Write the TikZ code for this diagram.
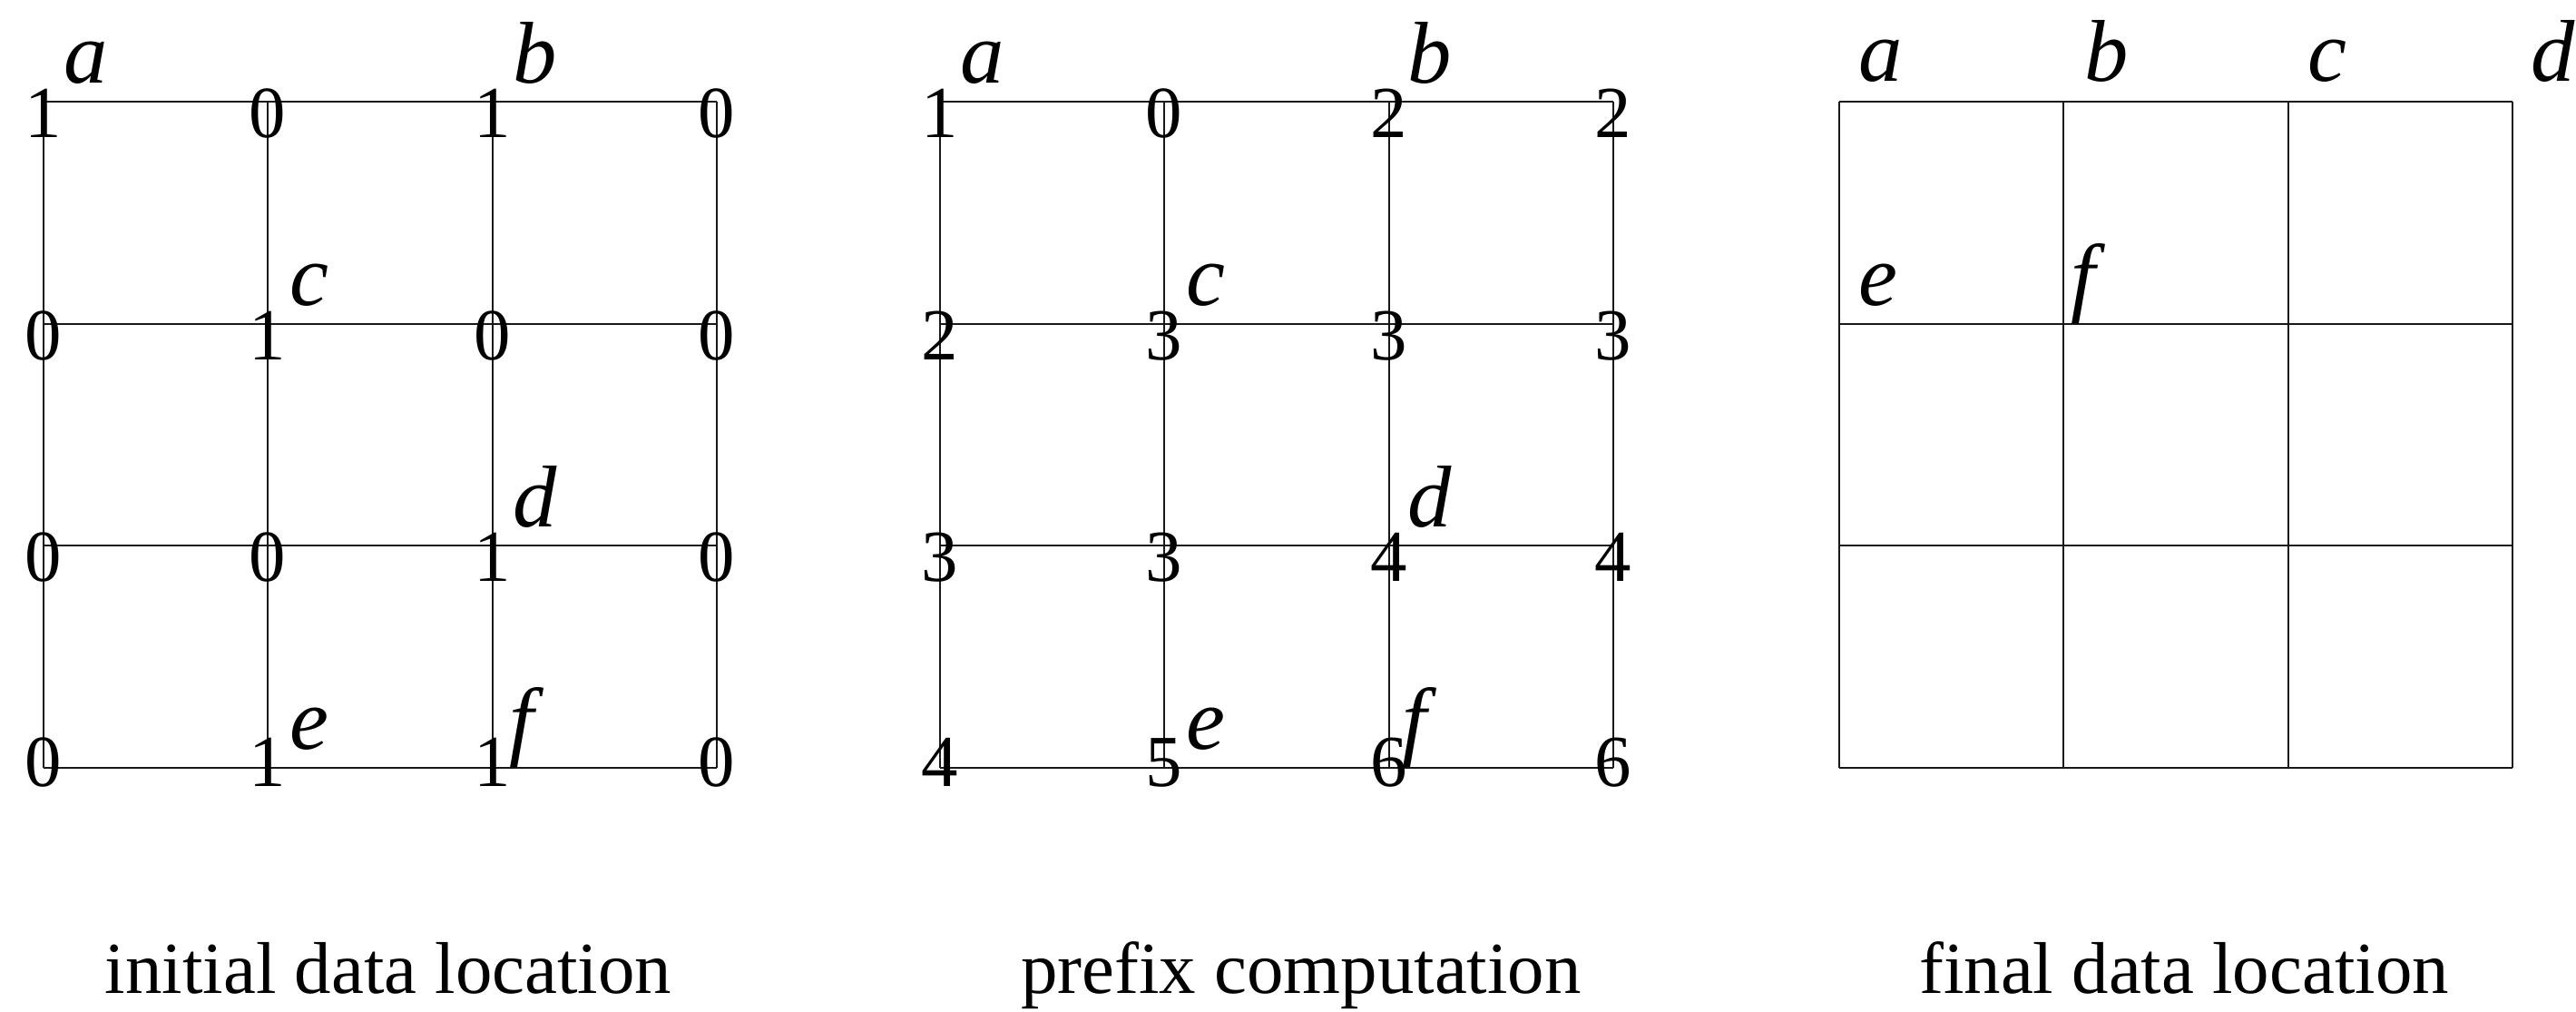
\documentclass[tikz,border=0pt]{standalone}
\usepackage{fontspec}
\setmainfont{Liberation Serif}
\usetikzlibrary{positioning}
\tikzset{
    font=\rmfamily,
    % Lines
    gridLine/.style={line width=0.75pt, black!90},
    % Labels
    digit/.style={anchor=base, inner sep=0pt, font=\fontsize{23}{23}\selectfont},
    tag/.style={inner sep=0pt, text depth=0pt, font=\fontsize{27.5}{27.5}\selectfont\itshape},
    caption/.style={anchor=base, inner sep=0pt, font=\fontsize{23}{23}\selectfont}
}

\begin{document}
\begin{tikzpicture}
\useasboundingbox (0,0) rectangle (28.39,11.15);

\foreach \y [count=\r] in {10.03,7.58,5.14,2.69}{
  \foreach \x [count=\c] in {0.48,2.95,5.43,7.90}{
    \coordinate (in-\r-\c) at (\x,\y);
    \coordinate (pre-\r-\c) at (\x+9.88,\y);
    \coordinate (fin-\r-\c) at (\x+19.79,\y);
  }
}

\foreach \g in {in,pre,fin}{
  \foreach \k in {1,...,4}{
    \draw[gridLine] (\g-\k-1) -- (\g-\k-4);
    \draw[gridLine] (\g-1-\k) -- (\g-4-\k);
  }
}

\foreach \vals/\dy [count=\r] in {{1,0,1,0}/0.40, {0,1,0,0}/0.40, {0,0,1,0}/0.40, {0,1,1,0}/0.21}
  \foreach \v [count=\c] in \vals
    \node[digit, yshift=-\dy cm] (inVal-\r-\c) at (in-\r-\c) {\v};

\foreach \vals/\dy [count=\r] in {{1,0,2,2}/0.40, {2,3,3,3}/0.40, {3,3,4,4}/0.40, {4,5,6,6}/0.21}
  \foreach \v [count=\c] in \vals
    \node[digit, yshift=-\dy cm] (preVal-\r-\c) at (pre-\r-\c) {\v};

\node[tag, above right=0.2cm and 0.22cm of in-1-1] (inA) {a};
\node[tag, above right=0.2cm and 0.22cm of in-1-3] (inB) {b};
\node[tag, above right=0.2cm and 0.24cm of in-2-2] (inC) {c};
\node[tag, above right=0.2cm and 0.22cm of in-3-3] (inD) {d};
\node[tag, above right=0.2cm and 0.24cm of in-4-2] (inE) {e};
\node[tag, above right=0.2cm and 0.18cm of in-4-3] (inF) {f};

\node[tag, above right=0.2cm and 0.22cm of pre-1-1] (preA) {a};
\node[tag, above right=0.2cm and 0.20cm of pre-1-3] (preB) {b};
\node[tag, above right=0.2cm and 0.24cm of pre-2-2] (preC) {c};
\node[tag, above right=0.2cm and 0.20cm of pre-3-3] (preD) {d};
\node[tag, above right=0.2cm and 0.24cm of pre-4-2] (preE) {e};
\node[tag, above right=0.2cm and 0.14cm of pre-4-3] (preF) {f};

\node[tag, above right=0.22cm and 0.21cm of fin-1-1] (finA) {a};
\node[tag, above right=0.22cm and 0.23cm of fin-1-2] (finB) {b};
\node[tag, above right=0.22cm and 0.21cm of fin-1-3] (finC) {c};
\node[tag, above right=0.22cm and 0.20cm of fin-1-4] (finD) {d};
\node[tag, above right=0.2cm and 0.21cm of fin-2-1] (finE) {e};
\node[tag, above right=0.2cm and 0.08cm of fin-2-2] (finF) {f};

\node[caption] (capIn) at (4.28,0.20) {initial data location};
\node[caption] (capPre) at (14.34,0.20) {prefix computation};
\node[caption] (capFin) at (24.07,0.20) {final data location};

\end{tikzpicture}
\end{document}
